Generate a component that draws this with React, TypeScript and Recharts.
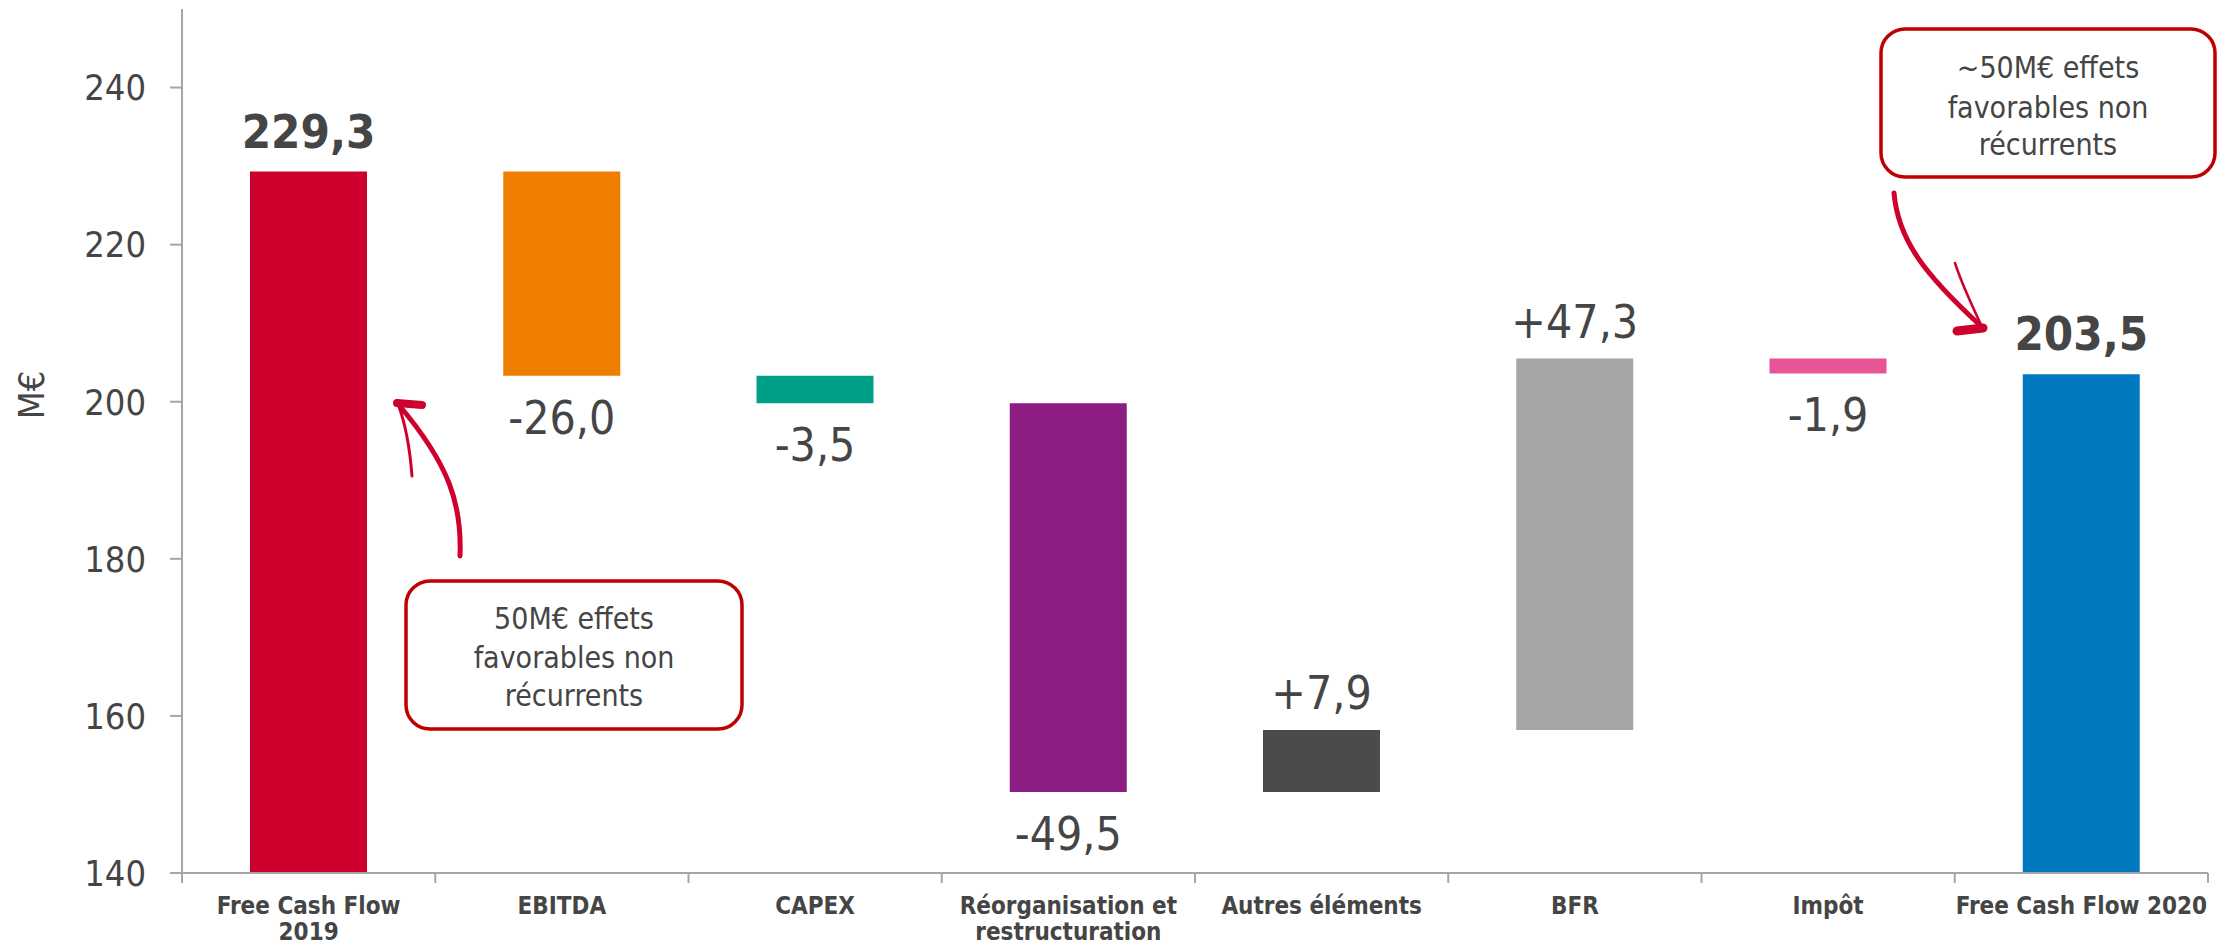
import { BarChart, Bar, XAxis, YAxis, Cell, LabelList } from 'recharts';

// Free cash flow bridge 2019 -> 2020 (M€)
const categoryLines = [
  ['Free Cash Flow', '2019'],
  ['EBITDA'],
  ['CAPEX'],
  ['Réorganisation et', 'restructuration'],
  ['Autres éléments'],
  ['BFR'],
  ['Impôt'],
  ['Free Cash Flow 2020'],
];
const steps = [229.3, -26.0, -3.5, -49.5, 7.9, 47.3, -1.9, 203.5];
const isTotal = [true, false, false, false, false, false, false, true];
const barColors = ['#CE002E', '#EF7D00', '#00A088', '#8C1D82', '#4B4B4B', '#A6A6A6', '#E85596', '#0079C1'];
const yTicks = [140, 160, 180, 200, 220, 240];

const FONT = "'DejaVu Sans Condensed', 'DejaVu Sans', sans-serif";
const TEXT = '#454545';
const AXIS = '#A6A6A6';

const W = 2231;
const H = 945;
const LEFT = 182;
const RIGHT = 23;
const BAND = (W - LEFT - RIGHT) / categoryLines.length;

const fmt = (v: number, total: boolean) => {
  const s = Math.abs(v).toFixed(1).replace('.', ',');
  if (total) return s;
  return (v < 0 ? '-' : '+') + s;
};

let running = 0;
const data = categoryLines.map((lines, i) => {
  const v = steps[i];
  let range: [number, number];
  if (isTotal[i]) {
    range = [0, v];
    running = v;
  } else {
    const next = running + v;
    range = [Math.min(running, next), Math.max(running, next)];
    running = next;
  }
  return { name: lines.join(' '), range, label: fmt(v, isTotal[i]), up: v > 0, total: isTotal[i] };
});

const CategoryTick = (props: any) => {
  const { x, y, payload, index } = props;
  const lines = categoryLines[index] || [payload.value];
  const last = index === categoryLines.length - 1;
  return (
    <g>
      <line x1={x - BAND / 2} x2={x - BAND / 2} y1={y} y2={y + 10} stroke={AXIS} strokeWidth={2} />
      {last && <line x1={x + BAND / 2} x2={x + BAND / 2} y1={y} y2={y + 10} stroke={AXIS} strokeWidth={2} />}
      <text x={x} y={y + 41} textAnchor="middle" fontFamily={FONT} fontWeight="bold" fontSize={24} fill={TEXT}>
        {lines.map((l: string, k: number) => (
          <tspan key={k} x={x} dy={k === 0 ? 0 : 26}>{l}</tspan>
        ))}
      </text>
    </g>
  );
};

const BarValue = (props: any) => {
  const { x, y, width, height, index } = props;
  const d = data[index];
  const top = Math.min(y, y + height);
  const bottom = Math.max(y, y + height);
  const cx = x + width / 2;
  if (d.up) {
    return (
      <text x={cx} y={top - (d.total ? 24 : 21)} textAnchor="middle" fontFamily={FONT} fontSize={d.total ? 47 : 46}
        fontWeight={d.total ? 'bold' : 'normal'} fill={TEXT}>
        {d.label}
      </text>
    );
  }
  return (
    <text x={cx} y={bottom + 58} textAnchor="middle" fontFamily={FONT} fontSize={46} fill={TEXT}>
      {d.label}
    </text>
  );
};

const UnitLabel = (props: any) => {
  const vb = props.viewBox || { x: 0, y: 9, height: 864 };
  const x = vb.x + 44;
  const y = 395;
  return (
    <text x={x} y={y} transform={`rotate(-90 ${x} ${y})`} textAnchor="middle" fontFamily={FONT} fontSize={36} fill={TEXT}>
      M€
    </text>
  );
};

const Callouts = () => (
  <svg width={W} height={H} style={{ position: 'absolute', left: 0, top: 0, pointerEvents: 'none' }}>
    <g fontFamily={FONT} fontSize={30} fill={TEXT} textAnchor="middle">
      <rect x={406} y={581} width={336} height={148} rx={24} fill="#fff" stroke="#C00000" strokeWidth={3.5} />
      <text x={574} y={629}>50M€ effets</text>
      <text x={574} y={668}>favorables non</text>
      <text x={574} y={706}>récurrents</text>

      <rect x={1881} y={29} width={334} height={148} rx={24} fill="#fff" stroke="#C00000" strokeWidth={3.5} />
      <text x={2048} y={78}>~50M€ effets</text>
      <text x={2048} y={118}>favorables non</text>
      <text x={2048} y={155}>récurrents</text>
    </g>
    <g stroke="#CE002E" fill="none" strokeLinecap="round" strokeLinejoin="round">
      <path d="M 460 556 C 462 505, 450 465, 398 404" strokeWidth={5} />
      <path d="M 397 403 L 422 405" strokeWidth={8} />
      <path d="M 398 404 C 406 425, 410 450, 412 476" strokeWidth={3} />

      <path d="M 1894 193 C 1898 240, 1925 275, 1982 327" strokeWidth={5} />
      <path d="M 1983 328 L 1957 331" strokeWidth={9} />
      <path d="M 1982 327 C 1972 305, 1962 285, 1955 263" strokeWidth={2.5} />
    </g>
  </svg>
);

export default function App() {
  return (
    <div style={{ position: 'absolute', left: 0, top: 0, width: W, height: H, background: '#fff' }}>
      <BarChart width={W} height={H} data={data} margin={{ top: 9, right: RIGHT, bottom: 0, left: 0 }}>
        <XAxis
          dataKey="name"
          interval={0}
          height={72}
          tickLine={false}
          tickSize={0}
          tickMargin={0}
          axisLine={{ stroke: AXIS, strokeWidth: 2 }}
          tick={<CategoryTick />}
        />
        <YAxis
          width={LEFT}
          domain={[140, 250]}
          ticks={yTicks}
          allowDataOverflow
          tickSize={12}
          tickMargin={24}
          axisLine={{ stroke: AXIS, strokeWidth: 2 }}
          tickLine={{ stroke: AXIS, strokeWidth: 2 }}
          tick={{ fontFamily: FONT, fontSize: 36, fill: TEXT }}
          label={<UnitLabel />}
        />
        <Bar dataKey="range" barSize={117} isAnimationActive={false}>
          {data.map((d, i) => (
            <Cell key={d.name} fill={barColors[i]} />
          ))}
          <LabelList dataKey="label" content={<BarValue />} />
        </Bar>
      </BarChart>
      <Callouts />
    </div>
  );
}
